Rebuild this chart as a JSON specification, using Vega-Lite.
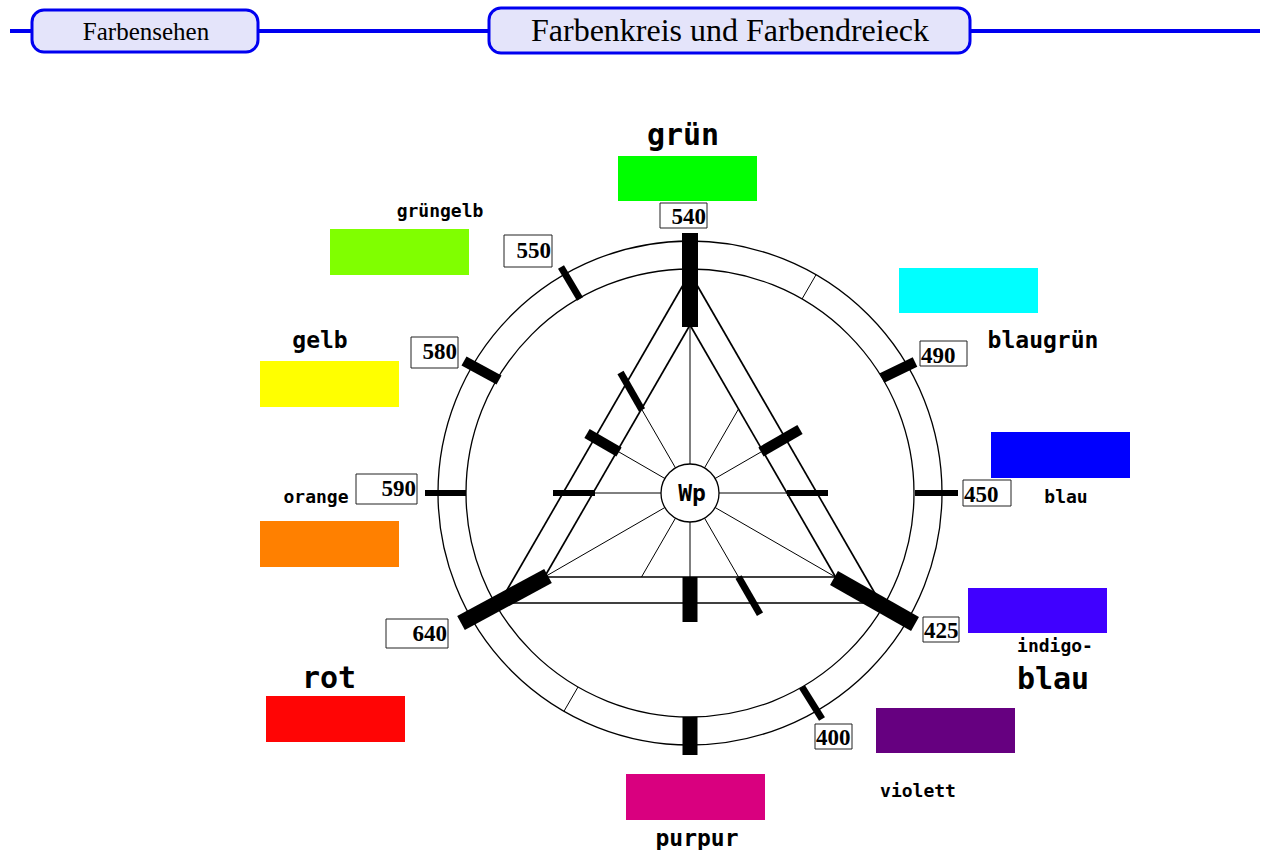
{
  "$schema": "https://vega.github.io/schema/vega-lite/v6.json",
  "width": 1264,
  "height": 850,
  "padding": 0,
  "autosize": {"type": "none"},
  "background": "white",
  "config": {"view": {"stroke": null}, "axis": {"disable": true}, "legend": {"disable": true}},
  "datasets": {
    "kopflinie": [{"x": 10, "x2": 1260, "y": 31}],
    "kopf": [
      {"text": "Farbensehen", "x": 32, "x2": 258, "y": 10, "y2": 52, "tx": 146, "ty": 40, "gr": "klein"},
      {"text": "Farbenkreis und Farbendreieck", "x": 489, "x2": 970, "y": 8, "y2": 53, "tx": 730, "ty": 41, "gr": "groß"}
    ],
    "kreise": [
      {"name": "Außenkreis", "cx": 690, "cy": 493, "r": 252},
      {"name": "Innenkreis", "cx": 690, "cy": 493, "r": 224},
      {"name": "Weißpunkt", "cx": 690, "cy": 493, "r": 29}
    ],
    "linien": [
      {"art": "Dreieck", "x": 690, "y": 273, "x2": 499.5, "y2": 603},
      {"art": "Dreieck", "x": 499.5, "y": 603, "x2": 880.5, "y2": 603},
      {"art": "Dreieck", "x": 880.5, "y": 603, "x2": 690, "y2": 273},
      {"art": "Dreieck", "x": 690, "y": 325, "x2": 544.5, "y2": 577},
      {"art": "Dreieck", "x": 544.5, "y": 577, "x2": 835.5, "y2": 577},
      {"art": "Dreieck", "x": 835.5, "y": 577, "x2": 690, "y2": 325},
      {"art": "Speiche", "x": 719, "y": 493, "x2": 787, "y2": 493},
      {"art": "Speiche", "x": 715.1, "y": 478.5, "x2": 762.7, "y2": 451},
      {"art": "Speiche", "x": 704.5, "y": 467.9, "x2": 738.5, "y2": 409},
      {"art": "Speiche", "x": 690, "y": 464, "x2": 690, "y2": 325},
      {"art": "Speiche", "x": 675.5, "y": 467.9, "x2": 641.5, "y2": 409},
      {"art": "Speiche", "x": 664.9, "y": 478.5, "x2": 617.3, "y2": 451},
      {"art": "Speiche", "x": 661, "y": 493, "x2": 593, "y2": 493},
      {"art": "Speiche", "x": 664.9, "y": 507.5, "x2": 544.5, "y2": 577},
      {"art": "Speiche", "x": 675.5, "y": 518.1, "x2": 641.5, "y2": 577},
      {"art": "Speiche", "x": 690, "y": 522, "x2": 690, "y2": 577},
      {"art": "Speiche", "x": 704.5, "y": 518.1, "x2": 738.5, "y2": 577},
      {"art": "Speiche", "x": 715.1, "y": 507.5, "x2": 835.5, "y2": 577},
      {"art": "Teilung", "x": 802, "y": 299, "x2": 816, "y2": 274.8},
      {"art": "Teilung", "x": 578, "y": 687, "x2": 564, "y2": 711.2}
    ],
    "marken": [
      {"marke": "540", "stufe": "A", "x": 690, "y": 233, "x2": 690, "y2": 327},
      {"marke": "550", "stufe": "D", "x": 561, "y": 267, "x2": 580, "y2": 299},
      {"marke": "580", "stufe": "C", "x": 464, "y": 361, "x2": 499, "y2": 380},
      {"marke": "590", "stufe": "E", "x": 425, "y": 493, "x2": 466, "y2": 493},
      {"marke": "640", "stufe": "A", "x": 461, "y": 623, "x2": 548, "y2": 576},
      {"marke": "425", "stufe": "A", "x": 834, "y": 578, "x2": 915, "y2": 624},
      {"marke": "490", "stufe": "C", "x": 882, "y": 378, "x2": 915, "y2": 362},
      {"marke": "450", "stufe": "E", "x": 915, "y": 493, "x2": 958, "y2": 493},
      {"marke": "400", "stufe": "D", "x": 802, "y": 687, "x2": 822, "y2": 719},
      {"marke": "purpur", "stufe": "B", "x": 690, "y": 717, "x2": 690, "y2": 755},
      {"marke": "innen 120", "stufe": "D", "x": 620.5, "y": 372.6, "x2": 642, "y2": 409.9},
      {"marke": "innen 150", "stufe": "C", "x": 587, "y": 433.5, "x2": 619, "y2": 452},
      {"marke": "innen 180", "stufe": "E", "x": 553, "y": 493, "x2": 595, "y2": 493},
      {"marke": "innen 0", "stufe": "E", "x": 787, "y": 493, "x2": 828, "y2": 493},
      {"marke": "innen 30", "stufe": "C", "x": 761, "y": 452, "x2": 800, "y2": 429.5},
      {"marke": "innen 270", "stufe": "B", "x": 690, "y": 577, "x2": 690, "y2": 622},
      {"marke": "innen 300", "stufe": "D", "x": 738.5, "y": 577, "x2": 760, "y2": 614.2}
    ],
    "wellen": [
      {"nm": "540", "seite": "links", "x": 660, "x2": 707, "y": 203, "y2": 228, "ty": 224},
      {"nm": "550", "seite": "links", "x": 504, "x2": 552, "y": 235, "y2": 267, "ty": 258},
      {"nm": "580", "seite": "links", "x": 411, "x2": 458, "y": 337, "y2": 368, "ty": 359},
      {"nm": "590", "seite": "links", "x": 356, "x2": 417, "y": 474, "y2": 504, "ty": 496},
      {"nm": "640", "seite": "links", "x": 386, "x2": 448, "y": 619, "y2": 648, "ty": 641},
      {"nm": "490", "seite": "rechts", "x": 920, "x2": 967, "y": 341, "y2": 366, "ty": 363},
      {"nm": "450", "seite": "rechts", "x": 963, "x2": 1011, "y": 480, "y2": 506, "ty": 502},
      {"nm": "425", "seite": "rechts", "x": 923, "x2": 959, "y": 617, "y2": 642, "ty": 638},
      {"nm": "400", "seite": "rechts", "x": 815, "x2": 852, "y": 724, "y2": 749, "ty": 745}
    ],
    "felder": [
      {"farbe": "grün", "x": 618, "x2": 757, "y": 156, "y2": 201},
      {"farbe": "grüngelb", "x": 330, "x2": 469, "y": 229, "y2": 275},
      {"farbe": "gelb", "x": 260, "x2": 399, "y": 361, "y2": 407},
      {"farbe": "orange", "x": 260, "x2": 399, "y": 521, "y2": 567},
      {"farbe": "rot", "x": 266, "x2": 405, "y": 696, "y2": 742},
      {"farbe": "blaugrün", "x": 899, "x2": 1038, "y": 268, "y2": 313},
      {"farbe": "blau", "x": 991, "x2": 1130, "y": 432, "y2": 478},
      {"farbe": "indigoblau", "x": 968, "x2": 1107, "y": 588, "y2": 633},
      {"farbe": "violett", "x": 876, "x2": 1015, "y": 708, "y2": 753},
      {"farbe": "purpur", "x": 626, "x2": 765, "y": 774, "y2": 820}
    ],
    "namen": [
      {"text": "grün", "gr": "groß", "x": 683, "y": 145},
      {"text": "grüngelb", "gr": "klein", "x": 440, "y": 217},
      {"text": "gelb", "gr": "mittel", "x": 320, "y": 348},
      {"text": "orange", "gr": "klein", "x": 316, "y": 503},
      {"text": "rot", "gr": "groß", "x": 329, "y": 688},
      {"text": "blaugrün", "gr": "mittel", "x": 1043, "y": 348},
      {"text": "blau", "gr": "klein", "x": 1066, "y": 503},
      {"text": "indigo-", "gr": "klein", "x": 1055, "y": 652},
      {"text": "blau", "gr": "groß", "x": 1053, "y": 689},
      {"text": "violett", "gr": "klein", "x": 918, "y": 797},
      {"text": "purpur", "gr": "mittel", "x": 697, "y": 846},
      {"text": "Wp", "gr": "wp", "x": 692, "y": 501}
    ]
  },
  "layer": [
    {
      "data": {"name": "kopflinie"},
      "mark": {"type": "rule", "color": "#0000F0", "strokeWidth": 4},
      "encoding": {
        "x": {"field": "x", "type": "quantitative", "scale": {"domain": [0, 1264], "nice": false, "zero": false}},
        "x2": {"field": "x2"},
        "y": {"field": "y", "type": "quantitative", "scale": {"domain": [0, 850], "nice": false, "zero": false, "reverse": true}}
      }
    },
    {
      "data": {"name": "kopf"},
      "mark": {"type": "rect", "fill": "#E4E4FA", "stroke": "#0000F0", "strokeWidth": 3, "cornerRadius": 12},
      "encoding": {
        "x": {"field": "x", "type": "quantitative", "scale": {"domain": [0, 1264], "nice": false, "zero": false}},
        "x2": {"field": "x2"},
        "y": {"field": "y", "type": "quantitative", "scale": {"domain": [0, 850], "nice": false, "zero": false, "reverse": true}},
        "y2": {"field": "y2"}
      }
    },
    {
      "data": {"name": "kopf"},
      "mark": {"type": "text", "font": "Liberation Serif", "align": "center", "baseline": "alphabetic", "color": "#000000"},
      "encoding": {
        "x": {"field": "tx", "type": "quantitative", "scale": {"domain": [0, 1264], "nice": false, "zero": false}},
        "y": {"field": "ty", "type": "quantitative", "scale": {"domain": [0, 850], "nice": false, "zero": false, "reverse": true}},
        "text": {"field": "text"},
        "size": {"condition": {"test": "datum.gr == 'groß'", "value": 32}, "value": 25}
      }
    },
    {
      "data": {"name": "kreise"},
      "mark": {"type": "arc", "theta": 0, "theta2": 6.2832, "filled": false, "stroke": "#000000", "strokeWidth": 1.3},
      "encoding": {
        "x": {"field": "cx", "type": "quantitative", "scale": {"domain": [0, 1264], "nice": false, "zero": false}},
        "y": {"field": "cy", "type": "quantitative", "scale": {"domain": [0, 850], "nice": false, "zero": false, "reverse": true}},
        "radius": {"field": "r", "type": "quantitative", "stack": null, "scale": {"type": "linear", "domain": [0, 300], "range": [0, 300], "zero": true}}
      }
    },
    {
      "data": {"name": "linien"},
      "mark": {"type": "rule", "color": "#000000"},
      "encoding": {
        "x": {"field": "x", "type": "quantitative", "scale": {"domain": [0, 1264], "nice": false, "zero": false}},
        "x2": {"field": "x2"},
        "y": {"field": "y", "type": "quantitative", "scale": {"domain": [0, 850], "nice": false, "zero": false, "reverse": true}},
        "y2": {"field": "y2"},
        "strokeWidth": {"condition": {"test": "datum.art == 'Dreieck'", "value": 1.7}, "value": 1}
      }
    },
    {
      "data": {"name": "marken"},
      "mark": {"type": "rule", "color": "#000000", "strokeCap": "butt"},
      "encoding": {
        "x": {"field": "x", "type": "quantitative", "scale": {"domain": [0, 1264], "nice": false, "zero": false}},
        "x2": {"field": "x2"},
        "y": {"field": "y", "type": "quantitative", "scale": {"domain": [0, 850], "nice": false, "zero": false, "reverse": true}},
        "y2": {"field": "y2"},
        "strokeWidth": {
          "condition": [
            {"test": "datum.stufe == 'A'", "value": 16},
            {"test": "datum.stufe == 'B'", "value": 15},
            {"test": "datum.stufe == 'C'", "value": 10.5},
            {"test": "datum.stufe == 'D'", "value": 7}
          ],
          "value": 6
        }
      }
    },
    {
      "data": {"name": "wellen"},
      "mark": {"type": "rect", "fill": "#FFFFFF", "stroke": "#222222", "strokeWidth": 1},
      "encoding": {
        "x": {"field": "x", "type": "quantitative", "scale": {"domain": [0, 1264], "nice": false, "zero": false}},
        "x2": {"field": "x2"},
        "y": {"field": "y", "type": "quantitative", "scale": {"domain": [0, 850], "nice": false, "zero": false, "reverse": true}},
        "y2": {"field": "y2"}
      }
    },
    {
      "data": {"name": "wellen"},
      "transform": [{"filter": "datum.seite == 'links'"}],
      "mark": {"type": "text", "font": "Liberation Serif", "fontWeight": "bold", "fontSize": 23, "align": "right", "baseline": "alphabetic", "dx": -1, "color": "#000000"},
      "encoding": {
        "x": {"field": "x2", "type": "quantitative", "scale": {"domain": [0, 1264], "nice": false, "zero": false}},
        "y": {"field": "ty", "type": "quantitative", "scale": {"domain": [0, 850], "nice": false, "zero": false, "reverse": true}},
        "text": {"field": "nm"}
      }
    },
    {
      "data": {"name": "wellen"},
      "transform": [{"filter": "datum.seite == 'rechts'"}],
      "mark": {"type": "text", "font": "Liberation Serif", "fontWeight": "bold", "fontSize": 23, "align": "left", "baseline": "alphabetic", "dx": 1, "color": "#000000"},
      "encoding": {
        "x": {"field": "x", "type": "quantitative", "scale": {"domain": [0, 1264], "nice": false, "zero": false}},
        "y": {"field": "ty", "type": "quantitative", "scale": {"domain": [0, 850], "nice": false, "zero": false, "reverse": true}},
        "text": {"field": "nm"}
      }
    },
    {
      "data": {"name": "felder"},
      "mark": {"type": "rect", "opacity": 1},
      "encoding": {
        "x": {"field": "x", "type": "quantitative", "scale": {"domain": [0, 1264], "nice": false, "zero": false}},
        "x2": {"field": "x2"},
        "y": {"field": "y", "type": "quantitative", "scale": {"domain": [0, 850], "nice": false, "zero": false, "reverse": true}},
        "y2": {"field": "y2"},
        "color": {
          "field": "farbe",
          "type": "nominal",
          "scale": {
            "domain": ["grün", "grüngelb", "gelb", "orange", "rot", "blaugrün", "blau", "indigoblau", "violett", "purpur"],
            "range": ["#00FF00", "#80FF00", "#FFFF00", "#FF8000", "#FF0505", "#00FFFF", "#0000FF", "#4000FF", "#660080", "#D9007F"]
          }
        }
      }
    },
    {
      "data": {"name": "namen"},
      "mark": {"type": "text", "font": "DejaVu Sans Mono", "fontWeight": "bold", "align": "center", "baseline": "alphabetic", "color": "#000000"},
      "encoding": {
        "x": {"field": "x", "type": "quantitative", "scale": {"domain": [0, 1264], "nice": false, "zero": false}},
        "y": {"field": "y", "type": "quantitative", "scale": {"domain": [0, 850], "nice": false, "zero": false, "reverse": true}},
        "text": {"field": "text"},
        "size": {
          "condition": [
            {"test": "datum.gr == 'groß'", "value": 30},
            {"test": "datum.gr == 'mittel'", "value": 23},
            {"test": "datum.gr == 'wp'", "value": 23}
          ],
          "value": 18
        }
      }
    }
  ]
}
